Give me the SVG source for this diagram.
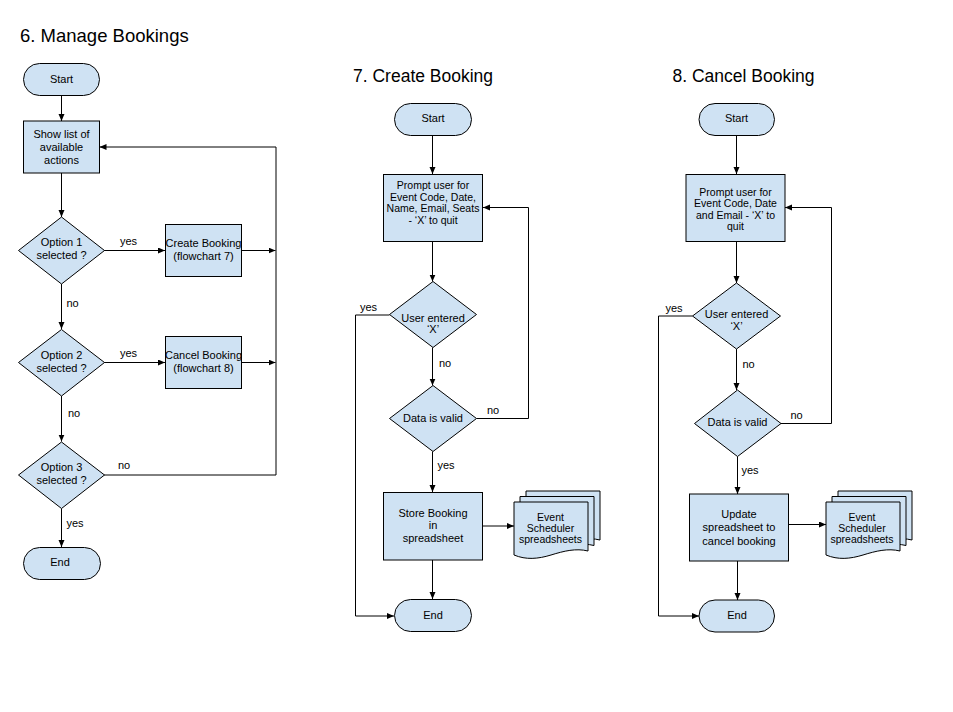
<svg xmlns="http://www.w3.org/2000/svg" width="953" height="712" viewBox="0 0 953 712">
<defs>
<marker id="ah" markerUnits="userSpaceOnUse" markerWidth="8" markerHeight="8" refX="7" refY="3" orient="auto">
<path d="M0,0 L7,3 L0,6 Z" fill="#000"/>
</marker>
<path id="doc" d="M0,0 H74 V49 C62,46 50,49 37,53 C24,57 12,58 0,53 Z"/>
</defs>
<style>
.n{fill:#cfe2f3;stroke:#000;stroke-width:1}
.t{font-family:"Liberation Sans",Arial,sans-serif;font-size:11px;fill:#000;text-anchor:middle}
.d{font-family:"Liberation Sans",Arial,sans-serif;font-size:10.5px;fill:#000;text-anchor:middle}
.l{font-family:"Liberation Sans",Arial,sans-serif;font-size:11px;fill:#000}
.h{font-family:"Liberation Sans",Arial,sans-serif;font-size:18.5px;fill:#000}
.h2{font-family:"Liberation Sans",Arial,sans-serif;font-size:17.5px;fill:#000}
.c{fill:none;stroke:#000;stroke-width:1;marker-end:url(#ah)}
</style>
<rect width="953" height="712" fill="#fff"/>
<text class="h" x="20" y="41.5">6. Manage Bookings</text>
<text class="h2" x="353" y="81.5">7. Create Booking</text>
<text class="h2" x="672.5" y="81.5">8. Cancel Booking</text>

<g id="connectors">
<path class="c" d="M61.5,95.5 V121"/>
<path class="c" d="M61.5,173 V217"/>
<path class="c" d="M104,250.5 H165"/>
<path class="c" d="M241,250.5 H275.5"/>
<path class="c" d="M61.5,284 V329"/>
<path class="c" d="M104,362.5 H165"/>
<path class="c" d="M241,362.5 H275.5"/>
<path class="c" d="M61.5,396 V441.5"/>
<path class="c" d="M104,475 H276 V147 H99.5"/>
<path class="c" d="M61.5,508.5 V547"/>

<path class="c" d="M432.5,135 V174"/>
<path class="c" d="M432.5,241.5 V281.5"/>
<path class="c" d="M389.5,315 H355.5 V616 H394"/>
<path class="c" d="M432.5,347.5 V385.5"/>
<path class="c" d="M476.5,418.5 H528.5 V207.5 H483"/>
<path class="c" d="M432.5,451.5 V492"/>
<path class="c" d="M483,526 H514"/>
<path class="c" d="M432.5,560 V599"/>

<path class="c" d="M736.5,135 V174"/>
<path class="c" d="M736.5,241.5 V283"/>
<path class="c" d="M692.5,316 H658.5 V616 H699"/>
<path class="c" d="M736.5,349 V390"/>
<path class="c" d="M781,423.5 H831.5 V207.5 H785"/>
<path class="c" d="M737.5,456.5 V494"/>
<path class="c" d="M788.5,524.5 H826"/>
<path class="c" d="M737.5,561 V600"/>
</g>

<g id="labels">
<text class="l" x="120" y="245">yes</text>
<text class="l" x="66.5" y="306.5">no</text>
<text class="l" x="120" y="357">yes</text>
<text class="l" x="68" y="417">no</text>
<text class="l" x="118" y="469">no</text>
<text class="l" x="66.5" y="527">yes</text>
<text class="l" x="360" y="311">yes</text>
<text class="l" x="439" y="366.5">no</text>
<text class="l" x="487" y="414">no</text>
<text class="l" x="437.5" y="469">yes</text>
<text class="l" x="665.5" y="312">yes</text>
<text class="l" x="742.5" y="368">no</text>
<text class="l" x="790.5" y="419">no</text>
<text class="l" x="741.5" y="474">yes</text>
</g>

<g id="m-start"><rect class="n" x="23.5" y="63.5" width="76" height="32" rx="16"/><text class="t" x="61.5" y="82.5">Start</text></g>
<g id="m-show"><rect class="n" x="23.5" y="121" width="76" height="52"/><text class="t" x="61.5" y="138">Show list of</text><text class="t" x="61.5" y="150.5">available</text><text class="t" x="61.5" y="163.5">actions</text></g>
<g id="m-opt1"><path class="n" d="M61.5,217 L104.5,250.5 L61.5,284 L18.5,250.5 Z"/><text class="t" x="61.5" y="246">Option 1</text><text class="t" x="61.5" y="259">selected ?</text></g>
<g id="m-create"><rect class="n" x="165.5" y="224.5" width="76" height="52"/><text class="t" x="203.5" y="247">Create Booking</text><text class="t" x="203.5" y="260">(flowchart 7)</text></g>
<g id="m-opt2"><path class="n" d="M61.5,329.5 L104.5,362.5 L61.5,396 L18.5,362.5 Z"/><text class="t" x="61.5" y="359">Option 2</text><text class="t" x="61.5" y="371.5">selected ?</text></g>
<g id="m-cancel"><rect class="n" x="165.5" y="336.5" width="76" height="52"/><text class="t" x="203.5" y="359">Cancel Booking</text><text class="t" x="203.5" y="371.5">(flowchart 8)</text></g>
<g id="m-opt3"><path class="n" d="M61.5,442 L104.5,475 L61.5,508.5 L18.5,475 Z"/><text class="t" x="61.5" y="471">Option 3</text><text class="t" x="61.5" y="484">selected ?</text></g>
<g id="m-end"><rect class="n" x="23.5" y="547.5" width="77" height="32" rx="16"/><text class="t" x="60" y="565.5">End</text></g>

<g id="c-start"><rect class="n" x="394.5" y="103.5" width="77" height="32" rx="16"/><text class="t" x="433" y="122">Start</text></g>
<g id="c-prompt"><rect class="n" x="383.5" y="174.5" width="99" height="67"/><text class="d" x="433" y="189">Prompt user for</text><text class="d" x="433" y="200.5">Event Code, Date,</text><text class="d" x="433" y="212">Name, Email, Seats</text><text class="d" x="433" y="223.5">- ‘X’ to quit</text></g>
<g id="c-user"><path class="n" d="M433,281.5 L476.5,314.5 L433,347.5 L389.5,314.5 Z"/><text class="t" x="433" y="321.5">User entered</text><text class="t" x="433" y="333">‘X’</text></g>
<g id="c-valid"><path class="n" d="M433,385.5 L476.5,418.5 L433,451.5 L389.5,418.5 Z"/><text class="t" x="433" y="422">Data is valid</text></g>
<g id="c-store"><rect class="n" x="383.5" y="492.5" width="99" height="67.5"/><text class="t" x="433" y="516.5">Store Booking</text><text class="t" x="433" y="529">in</text><text class="t" x="433" y="542">spreadsheet</text></g>
<g id="c-docs"><use href="#doc" class="n" x="526" y="491"/><use href="#doc" class="n" x="520" y="496.5"/><use href="#doc" class="n" x="514" y="502"/><text class="d" x="550.5" y="520.5">Event</text><text class="d" x="550.5" y="531.5">Scheduler</text><text class="d" x="550.5" y="542.5">spreadsheets</text></g>
<g id="c-end"><rect class="n" x="394.5" y="599.5" width="77" height="32" rx="16"/><text class="t" x="433" y="619">End</text></g>

<g id="x-start"><rect class="n" x="699" y="103.5" width="75.5" height="32" rx="16"/><text class="t" x="736.5" y="122">Start</text></g>
<g id="x-prompt"><rect class="n" x="686" y="174.5" width="99" height="67"/><text class="d" x="735.5" y="195.5">Prompt user for</text><text class="d" x="735.5" y="207">Event Code, Date</text><text class="d" x="735.5" y="218.5">and Email - ‘X’ to</text><text class="d" x="735.5" y="230">quit</text></g>
<g id="x-user"><path class="n" d="M736.5,283 L780.5,316 L736.5,349 L692.5,316 Z"/><text class="t" x="736.5" y="318">User entered</text><text class="t" x="736.5" y="329.5">‘X’</text></g>
<g id="x-valid"><path class="n" d="M737.5,390 L781,423.5 L737.5,456.5 L694.5,423.5 Z"/><text class="t" x="737.5" y="425.5">Data is valid</text></g>
<g id="x-update"><rect class="n" x="689.5" y="494" width="99" height="67"/><text class="t" x="739" y="518">Update</text><text class="t" x="739" y="531">spreadsheet to</text><text class="t" x="739" y="544.5">cancel booking</text></g>
<g id="x-docs"><use href="#doc" class="n" x="838" y="491"/><use href="#doc" class="n" x="832" y="496.5"/><use href="#doc" class="n" x="826" y="502"/><text class="d" x="862" y="521">Event</text><text class="d" x="862" y="532">Scheduler</text><text class="d" x="862" y="543">spreadsheets</text></g>
<g id="x-end"><rect class="n" x="699" y="600" width="75.5" height="32" rx="16"/><text class="t" x="737" y="619">End</text></g>
</svg>
